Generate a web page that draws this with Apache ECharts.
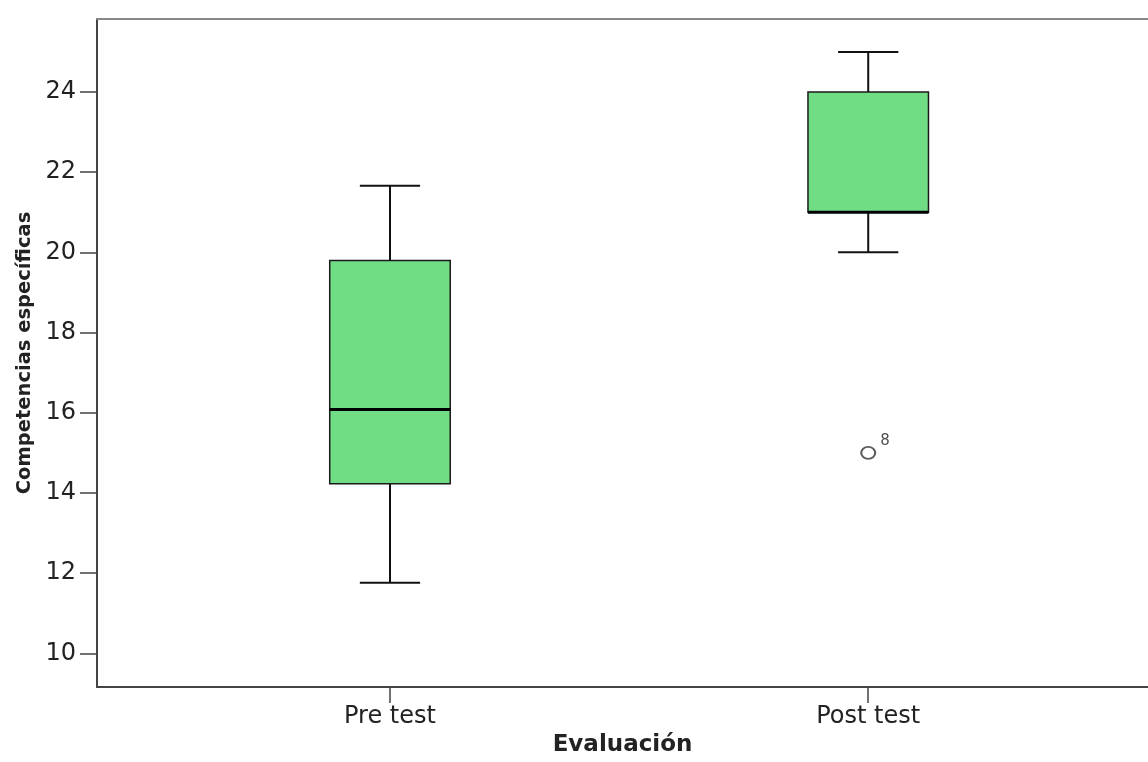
<!DOCTYPE html>
<html>
<head>
<meta charset="utf-8">
<script src="https://cdn.jsdelivr.net/npm/echarts@6/dist/echarts.min.js"></script>
<style>html,body{margin:0;padding:0;background:#fff}#c{width:1148px;height:762px}</style>
</head>
<body>
<div id="c"></div>
<script>
var categories = ['Pre test', 'Post test'];
var whiskerLow = [11.76, 20];
var q1 = [14.23, 21];
var median = [16.08, 21];
var q3 = [19.8, 24];
var whiskerHigh = [21.66, 25];
var outlierCategory = ['Post test'];
var outlierValue = [15];
var outlierLabel = ['8'];
var yTicks = [10, 12, 14, 16, 18, 20, 22, 24];

var boxData = categories.map(function (c, i) {
  return [i + 1, whiskerLow[i], q1[i], median[i], q3[i], whiskerHigh[i]];
});
var outData = outlierValue.map(function (v, i) {
  return [categories.indexOf(outlierCategory[i]) + 1, v];
});

var chart = echarts.init(document.getElementById('c'), null, {renderer: 'canvas'});
var txt = '#222';
chart.setOption({
  animation: false,
  backgroundColor: '#fff',
  grid: {left: 97, right: 0, top: 19, bottom: 70, containLabel: false},
  xAxis: [{
    type: 'value', min: 0.3874, max: 2.585, position: 'bottom',
    name: 'Evaluación', nameLocation: 'middle', nameGap: 47,
    nameTextStyle: {fontFamily: 'DejaVu Sans', fontWeight: 'bold', fontSize: 23, color: txt},
    axisLine: {show: true, onZero: false, lineStyle: {color: '#444', width: 2}},
    axisTick: {show: true, length: 16, customValues: [1, 2], lineStyle: {color: '#444', width: 1.5}},
    axisLabel: {customValues: [1, 2], margin: 18, fontFamily: 'DejaVu Sans', fontSize: 24, color: txt,
      formatter: function (v) { return categories[Math.round(v) - 1] || ''; }},
    splitLine: {show: false}
  }, {
    type: 'value', min: 0.3874, max: 2.585, position: 'top',
    axisLine: {show: true, onZero: false, lineStyle: {color: '#888', width: 2}},
    axisTick: {show: false}, axisLabel: {show: false}, splitLine: {show: false}
  }],
  yAxis: {
    type: 'value', min: 9.16, max: 25.82,
    name: 'Competencias específicas', nameLocation: 'middle', nameGap: 58,
    nameTextStyle: {fontFamily: 'DejaVu Sans', fontWeight: 'bold', fontSize: 19.5, color: txt},
    axisLine: {show: true, onZero: false, lineStyle: {color: '#444', width: 2}},
    axisTick: {show: true, length: 17, customValues: yTicks, lineStyle: {color: '#444', width: 1.5}},
    axisLabel: {customValues: yTicks, margin: 21, fontFamily: 'DejaVu Sans', fontSize: 24, color: txt},
    splitLine: {show: false}
  },
  series: [{
    type: 'custom',
    xAxisIndex: 0,
    data: boxData,
    encode: {x: 0, y: [1, 2, 3, 4, 5]},
    renderItem: function (params, api) {
      var x = api.value(0);
      var lo = api.coord([x, api.value(1)]);
      var b1 = api.coord([x, api.value(2)]);
      var md = api.coord([x, api.value(3)]);
      var b3 = api.coord([x, api.value(4)]);
      var hi = api.coord([x, api.value(5)]);
      var bw = api.size([0.252, 0])[0];
      var cw = bw / 2;
      var cx = lo[0];
      var ls = {stroke: '#111', lineWidth: 2};
      return {type: 'group', children: [
        {type: 'line', shape: {x1: cx, y1: hi[1], x2: cx, y2: b3[1]}, style: ls},
        {type: 'line', shape: {x1: cx, y1: b1[1], x2: cx, y2: lo[1]}, style: ls},
        {type: 'line', shape: {x1: cx - cw / 2, y1: hi[1], x2: cx + cw / 2, y2: hi[1]}, style: ls},
        {type: 'line', shape: {x1: cx - cw / 2, y1: lo[1], x2: cx + cw / 2, y2: lo[1]}, style: ls},
        {type: 'rect', shape: {x: cx - bw / 2, y: b3[1], width: bw, height: b1[1] - b3[1]},
          style: {fill: '#70DC84', stroke: '#1a1a1a', lineWidth: 1.5}},
        {type: 'line', shape: {x1: cx - bw / 2, y1: md[1], x2: cx + bw / 2, y2: md[1]},
          style: {stroke: '#000', lineWidth: 3}}
      ]};
    }
  }, {
    type: 'scatter',
    xAxisIndex: 0,
    data: outData,
    symbol: 'emptyCircle',
    symbolSize: [14, 12],
    itemStyle: {color: '#333', borderColor: '#333', borderWidth: 1.5},
    label: {show: true, position: 'right', distance: 4, offset: [0, -12],
      fontFamily: 'DejaVu Sans', fontSize: 15, color: txt,
      formatter: function (p) { return outlierLabel[p.dataIndex]; }}
  }]
});
</script>
</body>
</html>
